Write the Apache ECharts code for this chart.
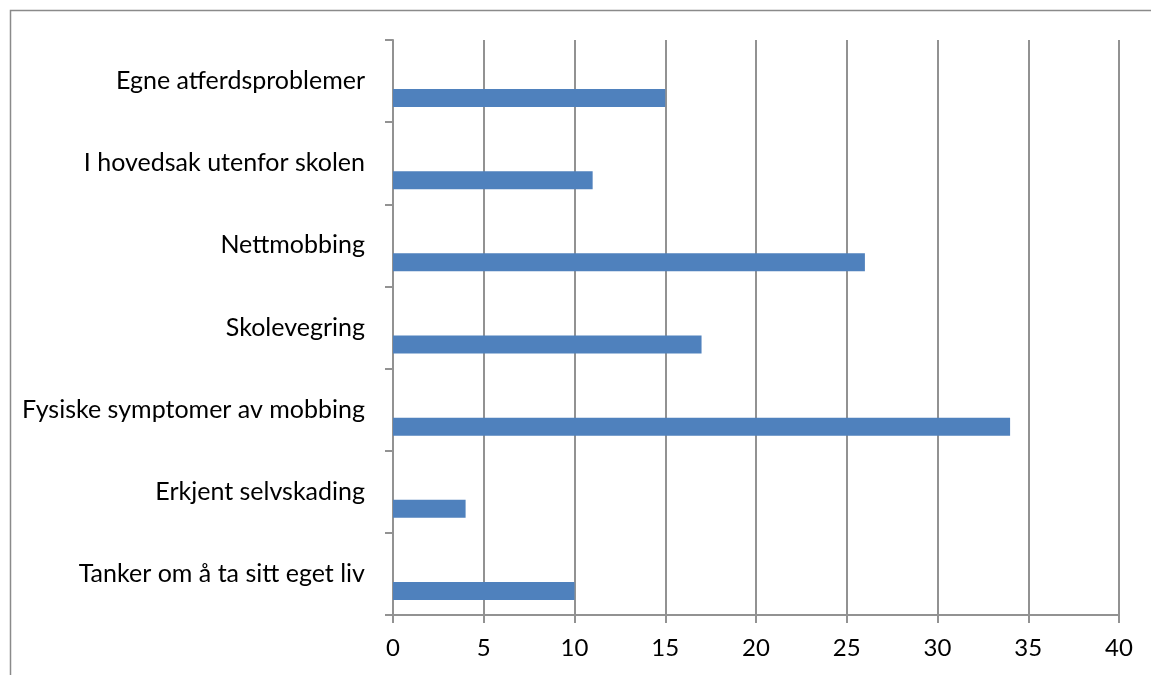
<!DOCTYPE html>
<html>
<head>
<meta charset="utf-8">
<script src="https://cdn.jsdelivr.net/npm/echarts@6/dist/echarts.min.js"></script>
<style>html,body{margin:0;padding:0;background:#fff;}#c{width:1151px;height:675px;}</style>
</head>
<body>
<div id="c"></div>
<script>
var categories = ['Tanker om å ta sitt eget liv','Erkjent selvskading','Fysiske symptomer av mobbing','Skolevegring','Nettmobbing','I hovedsak utenfor skolen','Egne atferdsproblemer'];
var values = [10, 4, 34, 17, 26, 11, 15];
var xTicks = [0, 5, 10, 15, 20, 25, 30, 35, 40];

var chart = echarts.init(document.getElementById('c'));
var gridColor = '#929292';
chart.setOption({
  animation: false,
  textStyle: {fontFamily: 'Lato'},
  graphic: [{type: 'rect', shape: {x: 10.5, y: 10.5, width: 1300, height: 800}, style: {fill: 'none', stroke: '#8a8a8a', lineWidth: 1.5}, silent: true}],
  grid: {left: 393, right: 32, top: 40, bottom: 60, containLabel: false},
  xAxis: {
    type: 'value', min: xTicks[0], max: xTicks[xTicks.length - 1], interval: 5,
    axisLine: {show: true, lineStyle: {color: gridColor, width: 2}},
    axisTick: {show: true, length: 8, lineStyle: {color: gridColor, width: 2}},
    splitLine: {show: true, lineStyle: {color: gridColor, width: 2}},
    axisLabel: {color: '#000', fontSize: 24, margin: 21, fontFamily: 'Lato'}
  },
  yAxis: {
    type: 'category', data: categories,
    axisLine: {show: true, lineStyle: {color: gridColor, width: 2}},
    axisTick: {show: true, length: 8, inside: false, lineStyle: {color: gridColor, width: 2}},
    axisLabel: {color: '#000', fontSize: 25, margin: 28, fontFamily: 'Lato'}
  },
  series: [
    {type: 'bar', data: values.map(function(){return null;}), barWidth: 18, barGap: '89%'},
    {type: 'bar', data: values, barWidth: 18, barGap: '89%', itemStyle: {color: '#4F81BD'}}
  ]
});
</script>
</body>
</html>
